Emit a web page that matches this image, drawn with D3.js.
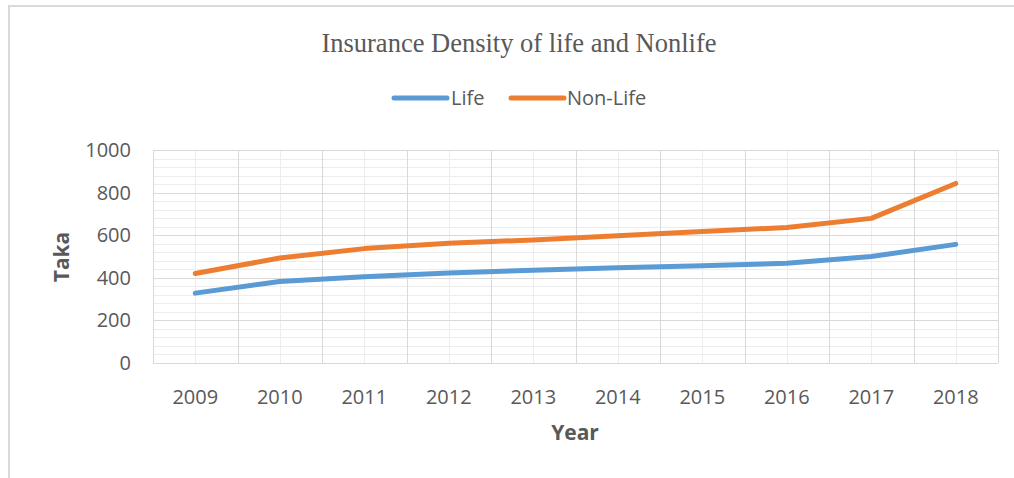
<!DOCTYPE html>
<html>
<head>
<meta charset="utf-8">
<script src="https://cdn.jsdelivr.net/npm/d3@7"></script>
<style>
  body { margin: 0; background: #fff; }
  text { font-family: "Open Sans", sans-serif; fill: #595959; }
</style>
</head>
<body>
<script>
const years = ["2009", "2010", "2011", "2012", "2013", "2014", "2015", "2016", "2017", "2018"];
const lifeValues = [328, 383, 405, 423, 436, 447, 456, 468, 500, 557];
const nonLifeValues = [420, 493, 537, 562, 578, 597, 617, 636, 679, 843];
const yTicks = [0, 200, 400, 600, 800, 1000];

const series = [
  { name: "Life", values: lifeValues, color: "#5B9BD5" },
  { name: "Non-Life", values: nonLifeValues, color: "#ED7D31" }
];

const w = 1014;
const h = 478;
const plot = { left: 153, right: 998, top: 150, bottom: 363 };

const svg = d3.select("body")
  .append("svg")
  .attr("width", w)
  .attr("height", h);

// chart border (only top and left edges are inside the picture)
svg.append("rect")
  .attr("x", 9).attr("y", 6)
  .attr("width", w + 10).attr("height", h + 10)
  .attr("fill", "none")
  .attr("stroke", "#d9d9d9")
  .attr("stroke-width", 2);

const x = d3.scaleBand()
  .domain(years)
  .range([plot.left, plot.right]);

const y = d3.scaleLinear()
  .domain([0, 1000])
  .range([plot.bottom, plot.top]);

const grid = svg.append("g");

// minor horizontal gridlines
grid.selectAll(".minor-h")
  .data(d3.range(0, 1001, 40).filter(v => v % 200 !== 0))
  .enter().append("line")
  .attr("x1", plot.left).attr("x2", plot.right)
  .attr("y1", d => Math.round(y(d)) + 0.5)
  .attr("y2", d => Math.round(y(d)) + 0.5)
  .attr("stroke", "#ededed");

// minor vertical gridlines at category centres
grid.selectAll(".minor-v")
  .data(years)
  .enter().append("line")
  .attr("x1", d => Math.round(x(d) + x.bandwidth() / 2) + 0.5)
  .attr("x2", d => Math.round(x(d) + x.bandwidth() / 2) + 0.5)
  .attr("y1", plot.top).attr("y2", plot.bottom)
  .attr("stroke", "#ededed");

// major horizontal gridlines
grid.selectAll(".major-h")
  .data(yTicks)
  .enter().append("line")
  .attr("x1", plot.left).attr("x2", plot.right)
  .attr("y1", d => Math.round(y(d)) + 0.5)
  .attr("y2", d => Math.round(y(d)) + 0.5)
  .attr("stroke", "#d9d9d9");

// major vertical gridlines at category boundaries
grid.selectAll(".major-v")
  .data(years.map(d => x(d)).concat([plot.right]))
  .enter().append("line")
  .attr("x1", d => Math.round(d) + 0.5)
  .attr("x2", d => Math.round(d) + 0.5)
  .attr("y1", plot.top).attr("y2", plot.bottom)
  .attr("stroke", "#d9d9d9");

// y tick labels
svg.selectAll(".ytick")
  .data(yTicks)
  .enter().append("text")
  .attr("x", 131)
  .attr("y", d => y(d))
  .attr("dy", "0.35em")
  .attr("text-anchor", "end")
  .style("font-size", "20px")
  .text(d => d);

// x tick labels
svg.selectAll(".xtick")
  .data(years)
  .enter().append("text")
  .attr("x", d => x(d) + x.bandwidth() / 2)
  .attr("y", 397)
  .attr("dy", "0.35em")
  .attr("text-anchor", "middle")
  .style("font-size", "20px")
  .text(d => d);

// lines
const line = d3.line()
  .x((d, i) => x(years[i]) + x.bandwidth() / 2)
  .y(d => y(d));

svg.selectAll(".series")
  .data(series)
  .enter().append("path")
  .attr("d", d => line(d.values))
  .attr("fill", "none")
  .attr("stroke", d => d.color)
  .attr("stroke-width", 5)
  .attr("stroke-linecap", "round")
  .attr("stroke-linejoin", "round");

// title
svg.append("text")
  .attr("x", 519)
  .attr("y", 52)
  .attr("text-anchor", "middle")
  .style("font-family", "'Liberation Serif', serif")
  .style("font-size", "26.5px")
  .text("Insurance Density of life and Nonlife");

// legend
const legendItems = [
  { name: "Life", color: "#5B9BD5", x1: 394, x2: 447, tx: 451 },
  { name: "Non-Life", color: "#ED7D31", x1: 511, x2: 564, tx: 567 }
];
legendItems.forEach(item => {
  svg.append("line")
    .attr("x1", item.x1).attr("x2", item.x2)
    .attr("y1", 98).attr("y2", 98)
    .attr("stroke", item.color)
    .attr("stroke-width", 5)
    .attr("stroke-linecap", "round");
  svg.append("text")
    .attr("x", item.tx)
    .attr("y", 98)
    .attr("dy", "0.35em")
    .style("font-size", "20px")
    .text(item.name);
});

// axis titles
svg.append("text")
  .attr("transform", "translate(62,257) rotate(-90)")
  .attr("text-anchor", "middle")
  .attr("dy", "0.35em")
  .style("font-size", "21px")
  .style("font-weight", "bold")
  .text("Taka");

svg.append("text")
  .attr("x", 575)
  .attr("y", 433)
  .attr("dy", "0.35em")
  .attr("text-anchor", "middle")
  .style("font-size", "21px")
  .style("font-weight", "bold")
  .text("Year");
</script>
</body>
</html>
